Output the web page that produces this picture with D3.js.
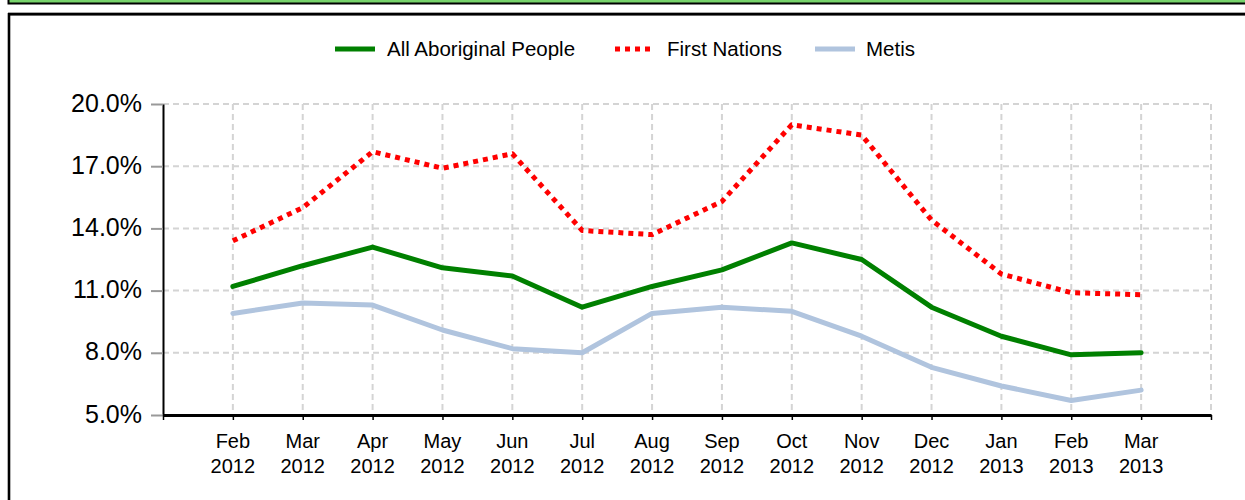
<!DOCTYPE html>
<html>
<head>
<meta charset="utf-8">
<script src="https://cdn.jsdelivr.net/npm/d3@7/dist/d3.min.js"></script>
<style>
  html, body { margin: 0; padding: 0; background: #fff; overflow: hidden; }
  svg { display: block; font-family: "Liberation Sans", Arial, sans-serif; }
</style>
</head>
<body>
<svg id="chart" width="1245" height="500"></svg>
<script>
const months = ["Feb","Mar","Apr","May","Jun","Jul","Aug","Sep","Oct","Nov","Dec","Jan","Feb","Mar"];
const years  = ["2012","2012","2012","2012","2012","2012","2012","2012","2012","2012","2012","2013","2013","2013"];
const allAboriginal = [11.2,12.2,13.1,12.1,11.7,10.2,11.2,12.0,13.3,12.5,10.2,8.8,7.9,8.0];
const firstNations  = [13.4,15.0,17.7,16.9,17.6,13.9,13.7,15.3,19.0,18.5,14.4,11.8,10.9,10.8];
const metis         = [9.9,10.4,10.3,9.1,8.2,8.0,9.9,10.2,10.0,8.8,7.3,6.4,5.7,6.2];
const yTicks = [5,8,11,14,17,20];
const seriesNames = ["All Aboriginal People","First Nations","Metis"];

const svg = d3.select("#chart");

// top panel remnant (green)
svg.append("rect").attr("x", 8.5).attr("y", -10).attr("width", 1300).attr("height", 13.5)
  .attr("fill", "#77d36b").attr("stroke", "#000").attr("stroke-width", 2);
// chart frame
svg.append("rect").attr("x", 8.5).attr("y", 12.5).attr("width", 1300).attr("height", 600)
  .attr("fill", "none").attr("stroke", "#aaa").attr("stroke-width", 1);
svg.append("rect").attr("x", 9).attr("y", 14.3).attr("width", 1300).attr("height", 600)
  .attr("fill", "#fff").attr("stroke", "#000").attr("stroke-width", 2.6);

const x = d3.scaleLinear().domain([0, 15]).range([163, 1211]);
const y = d3.scaleLinear().domain([5, 20]).range([415, 104]);

const g = svg.append("g");

// grid
g.selectAll(".vgrid").data(d3.range(1, 16)).join("line")
  .attr("x1", d => x(d)).attr("x2", d => x(d))
  .attr("y1", y(20)).attr("y2", y(5))
  .attr("stroke", "#d4d4d4").attr("stroke-width", 2).attr("stroke-dasharray", "6,4");
g.selectAll(".hgrid").data(yTicks.slice(1)).join("line")
  .attr("x1", x(0)).attr("x2", x(15))
  .attr("y1", d => y(d)).attr("y2", d => y(d))
  .attr("stroke", "#d4d4d4").attr("stroke-width", 2).attr("stroke-dasharray", "6,4");

// y axis
const yAxis = d3.axisLeft(y).tickValues(yTicks).tickSize(12).tickSizeOuter(0)
  .tickFormat(d => d.toFixed(1) + "%");
const ya = g.append("g").attr("transform", `translate(${x(0)},0)`).call(yAxis);
ya.select(".domain").attr("stroke", "#000").attr("stroke-width", 2);
ya.selectAll(".tick line").attr("stroke", "#999").attr("stroke-width", 2);
ya.selectAll(".tick text").attr("font-size", 25).attr("fill", "#000")
  .attr("font-family", "Liberation Sans, Arial, sans-serif")
  .attr("x", -21).attr("dy", "0.28em");

// x axis
const xAxis = d3.axisBottom(x).tickValues(d3.range(0, 16)).tickSize(5).tickSizeOuter(0).tickFormat("");
const xa = g.append("g").attr("transform", `translate(0,${y(5)})`).call(xAxis);
xa.select(".domain").attr("stroke", "#000").attr("stroke-width", 3);
xa.selectAll(".tick line").attr("stroke", "#000").attr("stroke-width", 1.5);

const lab = g.selectAll(".xlab").data(months).join("text")
  .attr("text-anchor", "middle").attr("font-size", 20).attr("fill", "#000")
  .attr("x", (d, i) => x(i + 1));
lab.append("tspan").attr("x", (d, i) => x(i + 1)).attr("y", 447.5).text(d => d);
lab.append("tspan").attr("x", (d, i) => x(i + 1)).attr("y", 473).text((d, i) => years[i]);

// lines
const line = d3.line().x((d, i) => x(i + 1)).y(d => y(d));
g.append("path").datum(metis).attr("d", line).attr("fill", "none")
  .attr("stroke", "#b0c4de").attr("stroke-width", 5).attr("stroke-linejoin", "round").attr("stroke-linecap", "round");
g.append("path").datum(allAboriginal).attr("d", line).attr("fill", "none")
  .attr("stroke", "#008000").attr("stroke-width", 5).attr("stroke-linejoin", "round").attr("stroke-linecap", "round");
g.append("path").datum(firstNations).attr("d", line).attr("fill", "none")
  .attr("stroke", "#ff0000").attr("stroke-width", 5).attr("stroke-dasharray", "5,5").attr("stroke-linejoin", "round");

// legend
const legend = [
  {name: seriesNames[0], color: "#008000", dash: null, x1: 335, x2: 375, tx: 387},
  {name: seriesNames[1], color: "#ff0000", dash: "5,5", x1: 615, x2: 652, tx: 667},
  {name: seriesNames[2], color: "#b0c4de", dash: null, x1: 815, x2: 855, tx: 866}
];
const lg = svg.append("g");
legend.forEach(l => {
  const ln = lg.append("line").attr("x1", l.x1).attr("x2", l.x2).attr("y1", 49).attr("y2", 49)
    .attr("stroke", l.color).attr("stroke-width", 5);
  if (l.dash) ln.attr("stroke-dasharray", l.dash);
  lg.append("text").attr("x", l.tx).attr("y", 56).attr("font-size", 20.5).attr("fill", "#000").text(l.name);
});
</script>
</body>
</html>
